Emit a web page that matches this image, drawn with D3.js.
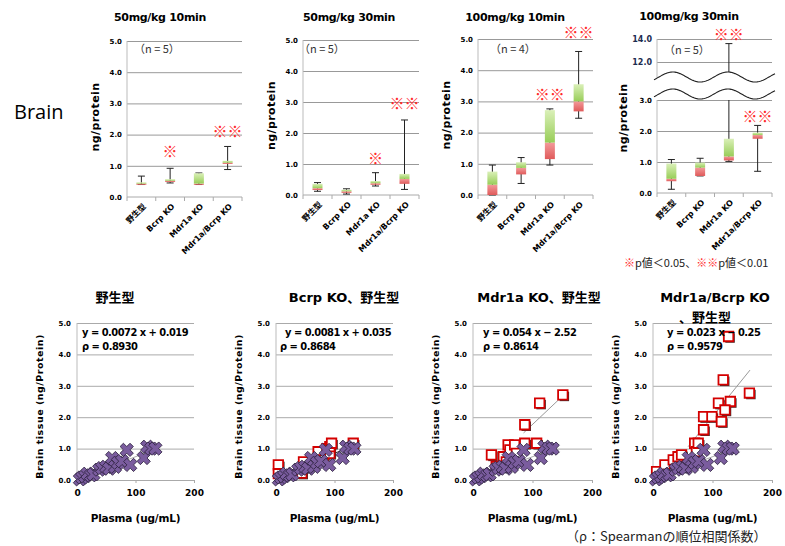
<!DOCTYPE html>
<html>
<head>
<meta charset="utf-8">
<script src="https://cdn.jsdelivr.net/npm/d3@7"></script>
<style>
body { margin: 0; background: #fff; }
svg { display: block; }
text { font-family: "DejaVu Sans", "Noto Sans CJK JP", sans-serif; }
</style>
</head>
<body>
<script>
// box plot categories and values [min, q1, median, q3, max]
const categories = ["野生型", "Bcrp KO", "Mdr1a KO", "Mdr1a/Bcrp KO"];
const box50mg10 = [[0.40, 0.40, 0.43, 0.47, 0.67], [0.45, 0.48, 0.52, 0.57, 0.92], [0.40, 0.40, 0.43, 0.76, 0.77], [0.88, 1.06, 1.10, 1.16, 1.62]];
const box50mg30 = [[0.12, 0.16, 0.22, 0.36, 0.40], [0.03, 0.07, 0.12, 0.17, 0.20], [0.29, 0.33, 0.38, 0.45, 0.72], [0.18, 0.36, 0.52, 0.68, 2.42]];
const box100mg10 = [[0.00, 0.00, 0.33, 0.75, 0.96], [0.37, 0.66, 0.87, 1.05, 1.20], [0.96, 1.15, 1.68, 2.72, 2.76], [2.46, 2.68, 3.00, 3.55, 4.60]];
const box100mg30 = [[0.12, 0.38, 0.46, 0.95, 1.08], [0.55, 0.55, 0.82, 0.98, 1.12], [1.02, 1.05, 1.18, 1.75, 13.6], [0.70, 1.75, 1.87, 1.95, 2.18]];

// significance marks: [category index, mark, y value]
const sig50mg10 = [[1, "※", 1.47], [3, "※※", 2.1]];
const sig50mg30 = [[2, "※", 1.17], [3, "※※", 2.96]];
const sig100mg10 = [[2, "※※", 3.22], [3, "※※", 5.22]];
const sig100mg30 = [[2, "※※", 14.35], [3, "※※", 2.46]];

const boxTicks = [0, 1, 2, 3, 4, 5];
const brokenLowTicks = [0, 1, 2, 3];
const brokenHighTicks = [12, 14];

// scatter: [plasma ug/mL, brain ng/protein]
const wildType = [[5, 0.02], [9, 0.08], [14, 0.12], [18, 0.2], [24, 0.15], [28, 0.18], [38, 0.33], [43, 0.38], [50, 0.42], [55, 0.36], [60, 0.7], [65, 0.42], [70, 0.55], [77, 0.6], [85, 0.96], [91, 0.48], [114, 0.7], [120, 1.06], [127, 1.0], [134, 1.0]];
const bcrpKO = [[4, 0.48], [4, 0.2], [44, 0.22], [47, 0.58], [72, 0.9], [81, 0.64], [87, 1.0], [92, 0.85], [92, 1.06], [95, 1.17], [132, 1.17]];
const mdr1aKO = [[31, 0.8], [39, 0.43], [51, 0.74], [56, 0.58], [59, 1.12], [62, 0.96], [70, 1.12], [73, 0.85], [87, 1.17], [87, 1.76], [107, 1.17], [112, 2.45], [151, 2.71]];
const doubleKO = [[6, 0.27], [20, 0.48], [34, 0.64], [42, 0.74], [48, 0.8], [70, 1.17], [73, 0.9], [76, 1.17], [85, 1.6], [85, 2.02], [99, 2.02], [115, 1.86], [110, 2.45], [118, 3.19], [130, 2.5], [127, 4.57], [162, 2.77], [121, 2.23]];

// trend lines as end points
const wtTrend = [[0, 0.019], [140, 1.03]];
const bcrpTrend = [[0, 0.035], [130, 1.09]];
const mdr1aTrend = [[85, 1.5], [152, 2.7]];
const doubleTrend = [[59, 1.06], [163, 3.5]];

const scatterTicksY = [0, 1, 2, 3, 4, 5];
const scatterTicksX = [0, 100, 200];

const W = 785, H = 546;
const svg = d3.select("body").append("svg").attr("width", W).attr("height", H);

const defs = svg.append("defs");
const gGreen = defs.append("linearGradient").attr("id", "gGreen").attr("x1", 0).attr("y1", 0).attr("x2", 0).attr("y2", 1);
gGreen.append("stop").attr("offset", "0%").attr("stop-color", "#daf0b8");
gGreen.append("stop").attr("offset", "100%").attr("stop-color", "#98cd58");
const gRed = defs.append("linearGradient").attr("id", "gRed").attr("x1", 0).attr("y1", 0).attr("x2", 0).attr("y2", 1);
gRed.append("stop").attr("offset", "0%").attr("stop-color", "#f29a9a");
gRed.append("stop").attr("offset", "100%").attr("stop-color", "#e05a5a");

const fmt = d3.format(".1f");

svg.append("text").attr("x", 14).attr("y", 119)
    .style("font-family", "'Open Sans', sans-serif").style("font-size", "20px")
    .text("Brain");

function drawBoxes(g, x, yFn, data) {
    const bw = 10, cap = 7;
    data.forEach((d, i) => {
        const cx = x(categories[i]) + x.bandwidth() / 2;
        const [mn, q1, md, q3, mx] = d;
        const segs = yFn.whisker(mn, mx);
        segs.forEach(s => {
            g.append("line").attr("x1", cx).attr("x2", cx).attr("y1", s[0]).attr("y2", s[1])
                .attr("stroke", "#222").attr("stroke-width", 1);
        });
        [mn, mx].forEach(v => {
            g.append("line").attr("x1", cx - cap / 2).attr("x2", cx + cap / 2)
                .attr("y1", yFn.y(v)).attr("y2", yFn.y(v)).attr("stroke", "#222");
        });
        g.append("rect").attr("x", cx - bw / 2).attr("width", bw)
            .attr("y", yFn.y(md)).attr("height", Math.max(1.2, yFn.y(q1) - yFn.y(md)))
            .attr("fill", "url(#gRed)");
        g.append("rect").attr("x", cx - bw / 2).attr("width", bw)
            .attr("y", yFn.y(q3)).attr("height", Math.max(0.8, yFn.y(md) - yFn.y(q3)))
            .attr("fill", "url(#gGreen)");
    });
}

function drawSig(g, x, yFn, sig) {
    sig.forEach(([i, mark, v]) => {
        g.append("text").attr("x", x(categories[i]) + x.bandwidth() / 2).attr("y", yFn.y(v) + 5.5)
            .attr("text-anchor", "middle").attr("fill", "#ff2a2a")
            .style("font-family", "'Noto Sans CJK JP'").style("font-size", "15px").style("font-weight", "bold")
            .text(mark);
    });
}

function categoryAxis(g, x, yBase, left, right) {
    g.append("line").attr("x1", left).attr("x2", right).attr("y1", yBase).attr("y2", yBase).attr("stroke", "#aaa");
    const edges = categories.map(c => x(c)).concat([right]);
    g.selectAll(".ctick").data(edges).join("line")
        .attr("x1", d => d).attr("x2", d => d).attr("y1", yBase).attr("y2", yBase + 4).attr("stroke", "#aaa");
    g.selectAll(".clab").data(categories).join("text")
        .attr("transform", d => `translate(${x(d) + x.bandwidth() / 2 + 5},${yBase + 10}) rotate(-45)`)
        .attr("text-anchor", "end").style("font-size", "8px").style("font-weight", "bold")
        .text(d => d);
}

function boxPanel(cfg) {
    const g = svg.append("g");
    const x = d3.scaleBand().domain(categories).range([cfg.left, cfg.right]);
    const y = d3.scaleLinear().domain([0, 5]).range([cfg.bottom, cfg.top]);
    g.append("g").attr("transform", `translate(${cfg.left},0)`)
        .call(d3.axisLeft(y).tickValues(boxTicks).tickSize(-(cfg.right - cfg.left)).tickPadding(5).tickFormat(fmt))
        .call(a => a.select(".domain").remove())
        .call(a => a.selectAll("line").attr("stroke", d => d === 0 ? "none" : "#999"))
        .call(a => a.selectAll("text").style("font-size", "7px").style("font-weight", "bold").attr("fill", "#000"));
    g.append("line").attr("x1", cfg.left).attr("x2", cfg.left).attr("y1", cfg.top).attr("y2", cfg.bottom).attr("stroke", "#bbb");
    categoryAxis(g, x, cfg.bottom, cfg.left, cfg.right);
    const yFn = { y: y, whisker: (a, b) => [[y(a), y(b)]] };
    drawBoxes(g, x, yFn, cfg.data);
    drawSig(g, x, yFn, cfg.sig);
    g.append("text").attr("x", cfg.titleX).attr("y", 21).attr("text-anchor", "middle")
        .style("font-size", "11px").style("font-weight", "bold").style("letter-spacing", "-0.3px").text(cfg.title);
    g.append("text").attr("x", cfg.nX).attr("y", 53).style("font-size", "11px").attr("fill", "#333")
        .style("font-family", "'Noto Sans CJK JP'").text(cfg.n);
    g.append("text").attr("transform", `translate(${cfg.left - 28},${(cfg.top + cfg.bottom) / 2 - 2}) rotate(-90)`)
        .attr("text-anchor", "middle").style("font-size", "11px").style("font-weight", "bold")
        .style("letter-spacing", "0.4px").text("ng/protein");
}

boxPanel({ left: 127, right: 242, top: 41, bottom: 197, data: box50mg10, sig: sig50mg10, title: "50mg/kg 10min", titleX: 160, n: "（n = 5）", nX: 134 });
boxPanel({ left: 303, right: 419, top: 40, bottom: 195, data: box50mg30, sig: sig50mg30, title: "50mg/kg 30min", titleX: 349, n: "（n = 5）", nX: 299 });
boxPanel({ left: 478, right: 593, top: 39, bottom: 195, data: box100mg10, sig: sig100mg10, title: "100mg/kg 10min", titleX: 515, n: "（n = 4）", nX: 490 });

// broken axis panel
(function () {
    const left = 657, right = 772;
    const g = svg.append("g");
    const x = d3.scaleBand().domain(categories).range([left, right]);
    const yLow = d3.scaleLinear().domain([0, 3]).range([193, 100]);
    const yHigh = d3.scaleLinear().domain([12, 14]).range([62, 39]);
    const breakLow = 3.0, breakHigh = 11.0;
    const yAny = v => v > breakLow + 0.5 ? yHigh(v) : yLow(v);

    g.append("g").attr("transform", `translate(${left},0)`)
        .call(d3.axisLeft(yLow).tickValues(brokenLowTicks).tickSize(-(right - left)).tickPadding(5).tickFormat(fmt))
        .call(a => a.select(".domain").remove())
        .call(a => a.selectAll("line").attr("stroke", d => d === 0 ? "none" : "#999"))
        .call(a => a.selectAll("text").style("font-size", "7px").style("font-weight", "bold").attr("fill", "#000"));
    g.append("g").attr("transform", `translate(${left},0)`)
        .call(d3.axisLeft(yHigh).tickValues(brokenHighTicks).tickSize(-(right - left)).tickPadding(5).tickFormat(fmt))
        .call(a => a.select(".domain").remove())
        .call(a => a.selectAll("line").attr("stroke", "#999"))
        .call(a => a.selectAll("text").style("font-size", "8px").style("font-weight", "bold").attr("fill", "#1c2c50"));
    g.append("line").attr("x1", left).attr("x2", left).attr("y1", 100).attr("y2", 193).attr("stroke", "#bbb");
    g.append("line").attr("x1", left).attr("x2", left).attr("y1", 39).attr("y2", 80).attr("stroke", "#bbb");
    categoryAxis(g, x, 193, left, right);

    const yFn = {
        y: yAny,
        whisker: (a, b) => b > breakLow + 0.5
            ? [[yLow(a), yLow(breakLow)], [yHigh(breakHigh), yHigh(b)]]
            : [[yLow(a), yLow(b)]]
    };
    drawBoxes(g, x, yFn, box100mg30);

    // break band with wavy edges
    const xs = d3.range(left - 3, right + 4, 1);
    const wave = c => xs.map(px => [px, c - 5 * Math.sin(2 * Math.PI * (px - 659) / 55)]);
    const top = wave(77), bot = wave(94);
    g.append("path").attr("d", d3.line()(top.concat(bot.slice().reverse())) + "Z").attr("fill", "#fff");
    g.append("path").attr("d", d3.line()(top)).attr("fill", "none").attr("stroke", "#222").attr("stroke-width", 1.1);
    g.append("path").attr("d", d3.line()(bot)).attr("fill", "none").attr("stroke", "#222").attr("stroke-width", 1.1);

    drawSig(g, x, yFn, sig100mg30);
    g.append("text").attr("x", 689).attr("y", 20).attr("text-anchor", "middle")
        .style("font-size", "11px").style("font-weight", "bold").style("letter-spacing", "-0.3px").text("100mg/kg 30min");
    g.append("text").attr("x", 664).attr("y", 54).style("font-size", "11px").attr("fill", "#333")
        .style("font-family", "'Noto Sans CJK JP'").text("（n = 5）");
    g.append("text").attr("transform", `translate(${left - 30},118) rotate(-90)`)
        .attr("text-anchor", "middle").style("font-size", "11px").style("font-weight", "bold")
        .style("letter-spacing", "0.4px").text("ng/protein");

    const note = svg.append("text").attr("x", 624).attr("y", 267)
        .style("font-family", "'Noto Sans CJK JP'").style("font-size", "11px").attr("fill", "#222");
    note.append("tspan").attr("fill", "#ff2a2a").text("※");
    note.append("tspan").text("p値＜0.05、");
    note.append("tspan").attr("fill", "#ff2a2a").text("※※");
    note.append("tspan").text("p値＜0.01");
})();

// scatter panels
function scatterPanel(cfg) {
    const g = svg.append("g");
    const top = 323, bottom = 480;
    const x = d3.scaleLinear().domain([0, 200]).range([cfg.left, cfg.right]);
    const y = d3.scaleLinear().domain([0, 5]).range([bottom, top]);
    g.append("g").attr("transform", `translate(${cfg.left},0)`)
        .call(d3.axisLeft(y).tickValues(scatterTicksY).tickSize(-(cfg.right - cfg.left)).tickPadding(6).tickFormat(fmt))
        .call(a => a.select(".domain").remove())
        .call(a => a.selectAll("line").attr("stroke", "#aaa"))
        .call(a => a.selectAll("text").style("font-size", "7px").style("font-weight", "bold").attr("fill", "#000"));
    g.append("line").attr("x1", cfg.left).attr("x2", cfg.left).attr("y1", top).attr("y2", bottom).attr("stroke", "#bbb");
    g.append("g").attr("transform", `translate(0,${bottom})`)
        .call(d3.axisBottom(x).tickValues(scatterTicksX).tickSize(3).tickPadding(7).tickFormat(d3.format("d")))
        .call(a => a.select(".domain").attr("stroke", "#aaa"))
        .call(a => a.selectAll("line").attr("stroke", "#aaa"))
        .call(a => a.selectAll("text").style("font-size", "9px").style("font-weight", "bold").attr("fill", "#000"));

    const line = d3.line().x(d => x(d[0])).y(d => y(d[1]));
    g.append("path").attr("d", line(wtTrend)).attr("stroke", "#aaa").attr("fill", "none");
    if (cfg.trend) {
        g.append("path").attr("d", line(cfg.trend)).attr("stroke", cfg.trendColor).attr("fill", "none");
    }

    if (cfg.points) {
        const sq = d3.symbol(d3.symbolSquare, 90);
        g.selectAll(".sh").data(cfg.points).join("path")
            .attr("d", sq).attr("transform", d => `translate(${x(d[0]) + 1.5},${y(d[1]) + 1.5})`)
            .attr("fill", "#333");
        g.selectAll(".sq").data(cfg.points).join("path")
            .attr("d", sq).attr("transform", d => `translate(${x(d[0])},${y(d[1])})`)
            .attr("fill", "#fff").attr("stroke", "#d40000").attr("stroke-width", 1.8);
    }
    const star = d3.symbol(d3.symbolCross, 110);
    g.selectAll(".wt").data(wildType).join("path")
        .attr("d", star).attr("transform", d => `translate(${x(d[0])},${y(d[1])}) rotate(45)`)
        .attr("fill", "#7a5c9e").attr("stroke", "#2e2240").attr("stroke-width", 0.8);

    const eqFont = "'Liberation Sans Narrow', 'DejaVu Sans Condensed', 'DejaVu Sans', sans-serif";
    g.append("text").attr("x", cfg.eqX).attr("y", 336).style("font-family", eqFont)
        .style("font-size", "11px").style("font-weight", "bold").style("letter-spacing", "-0.5px").text(cfg.eq);
    g.append("text").attr("x", cfg.rhoX).attr("y", 350).style("font-family", eqFont)
        .style("font-size", "11px").style("font-weight", "bold").style("letter-spacing", "-0.5px").text(cfg.rho);

    cfg.title.forEach((t, i) => {
        g.append("text").attr("x", cfg.titleX[i]).attr("y", 302 + i * 20).attr("text-anchor", "middle")
            .style("font-size", "13px").style("font-weight", "bold").text(t);
    });
    g.append("text").attr("x", (cfg.left + cfg.right) / 2).attr("y", 522).attr("text-anchor", "middle")
        .style("font-size", "10.5px").style("font-weight", "bold").style("letter-spacing", "-0.2px").text("Plasma (ug/mL)");
    g.append("text").attr("transform", `translate(${cfg.left - 34},${(top + bottom) / 2 + 5}) rotate(-90)`)
        .attr("text-anchor", "middle").style("font-size", "9.5px").style("font-weight", "bold")
        .style("letter-spacing", "0.5px").text("Brain tissue (ng/Protein)");
}

scatterPanel({ left: 77, right: 194, title: ["野生型"], titleX: [115], eq: "y = 0.0072 x + 0.019", eqX: 82, rho: "ρ = 0.8930", rhoX: 82 });
scatterPanel({ left: 276, right: 393, title: ["Bcrp KO、野生型"], titleX: [344], points: bcrpKO, trend: bcrpTrend, trendColor: "#333",
    eq: "y = 0.0081 x + 0.035", eqX: 285, rho: "ρ = 0.8684", rhoX: 280 });
scatterPanel({ left: 473, right: 592, title: ["Mdr1a KO、野生型"], titleX: [539], points: mdr1aKO, trend: mdr1aTrend, trendColor: "#999",
    eq: "y = 0.054 x − 2.52", eqX: 483, rho: "ρ = 0.8614", rhoX: 483 });
scatterPanel({ left: 653, right: 772, title: ["Mdr1a/Bcrp KO", "、野生型"], titleX: [715, 705], points: doubleKO, trend: doubleTrend, trendColor: "#999",
    eq: "y = 0.023 x − 0.25", eqX: 667, rho: "ρ = 0.9579", rhoX: 667 });

svg.append("text").attr("x", 566).attr("y", 541)
    .style("font-family", "'Noto Sans CJK JP'").style("font-size", "13px").attr("fill", "#222")
    .text("（ρ：Spearmanの順位相関係数）");
</script>
</body>
</html>
